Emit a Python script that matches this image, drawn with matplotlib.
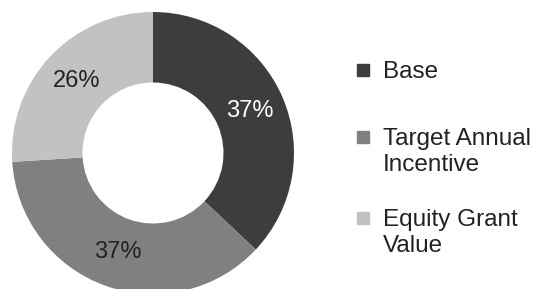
import matplotlib.pyplot as plt
from matplotlib.patches import Rectangle

plt.rcParams['font.family'] = ['Liberation Sans', 'DejaVu Sans']

labels = ['Base', 'Target Annual\nIncentive', 'Equity Grant\nValue']
shares = [37, 37, 26]
colors = ['#3d3d3d', '#808080', '#c2c2c2']
pct_colors = ['white', '#222222', '#222222']

W, H = 537, 289
fig = plt.figure(figsize=(W / 100, H / 100), dpi=100)

# donut: centre ~ (153, 153) px, outer radius ~141 px
ax = fig.add_axes([12 / W, (H - 153 - 141) / H, 282 / W, 282 / H])
wedges, texts, autotexts = ax.pie(
    shares, colors=colors, startangle=90, counterclock=False,
    autopct='%d%%', pctdistance=0.745, radius=1,
    wedgeprops=dict(width=0.5, linewidth=0),
    textprops=dict(fontsize=17))
for t, c in zip(autotexts, pct_colors):
    t.set_color(c)
ax.set_xlim(-1, 1)
ax.set_ylim(-1, 1)
ax.set_aspect('equal')
ax.axis('off')

# legend drawn by hand so the swatch lines up with the first text line
first_line_y = [70, 137, 218]
for lab, col, y in zip(labels, colors, first_line_y):
    fig.patches.append(Rectangle((357 / W, (H - y - 6) / H), 12 / W, 12 / H,
                                 transform=fig.transFigure, color=col))
    fig.text(383 / W, (H - y + 9) / H, lab, fontsize=17.5, color='#222222',
             va='top', ha='left', linespacing=1.25)

fig.savefig('out.png', dpi=100)
